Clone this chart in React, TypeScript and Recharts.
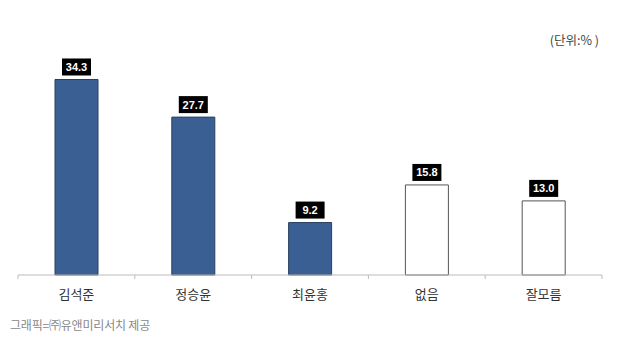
import { BarChart, Bar, XAxis, YAxis, Cell, LabelList } from 'recharts'

const candidates = ['김석준', '정승윤', '최윤홍', '없음', '잘모름']
const support = [34.3, 27.7, 9.2, 15.8, 13.0]
const isPerson = [true, true, true, false, false]

const data = candidates.map((name, i) => ({ name, value: support[i], person: isPerson[i] }))

const KR = '"Noto Sans CJK KR", "Noto Sans", sans-serif'

function ValueBox(props: any) {
  const { x, y, width, value } = props
  const cx = x + width / 2
  const w = 29
  const h = 17
  return (
    <g>
      <rect x={cx - w / 2} y={y - h - 4} width={w} height={h} fill="#000" />
      <text
        x={cx}
        y={y - 4 - h / 2}
        dy="0.36em"
        textAnchor="middle"
        fill="#fff"
        fontSize={11}
        fontWeight="bold"
        fontFamily="Arial, 'Liberation Sans', sans-serif"
      >
        {Number(value).toFixed(1)}
      </text>
    </g>
  )
}

function CategoryTick(props: any) {
  const { x, y, payload, index } = props
  const half = payload.offset ?? 0
  const axisY = y - 8
  return (
    <g>
      <line x1={x - half} x2={x - half} y1={axisY} y2={axisY + 4} stroke="#bbb" />
      {index === candidates.length - 1 && (
        <line x1={x + half} x2={x + half} y1={axisY} y2={axisY + 4} stroke="#bbb" />
      )}
      <text x={x} y={axisY + 19} dy="0.36em" textAnchor="middle" fill="#333" fontSize={13} fontFamily={KR}>
        {payload.value}
      </text>
    </g>
  )
}

export default function App() {
  return (
    <div style={{ position: 'fixed', left: 0, top: 0, width: 627, height: 343, background: '#fff' }}>
      <BarChart
        width={627}
        height={343}
        data={data}
        margin={{ top: 47, right: 25, left: 18, bottom: 38 }}
      >
        <XAxis
          dataKey="name"
          axisLine={{ stroke: '#bbb' }}
          tickLine={false}
          tickSize={0}
          tickMargin={8}
          height={30}
          interval={0}
          tick={<CategoryTick />}
        />
        <YAxis hide domain={[0, 40]} />
        <Bar dataKey="value" barSize={43} isAnimationActive={false}>
          {data.map((d) => (
            <Cell
              key={d.name}
              fill={d.person ? '#3A5F93' : '#ffffff'}
              stroke={d.person ? '#2a3f60' : '#555'}
              strokeWidth={1}
            />
          ))}
          <LabelList dataKey="value" content={<ValueBox />} />
        </Bar>
      </BarChart>
      <div
        style={{
          position: 'absolute',
          right: 28,
          top: 30,
          fontFamily: KR,
          fontSize: 12.5,
          color: '#444',
        }}
      >
        (단위:% )
      </div>
      <div
        style={{
          position: 'absolute',
          left: 10,
          top: 316,
          fontFamily: KR,
          fontSize: 12,
          color: '#888',
          letterSpacing: -0.2,
        }}
      >
        그래픽=㈜유앤미리서치 제공
      </div>
    </div>
  )
}
